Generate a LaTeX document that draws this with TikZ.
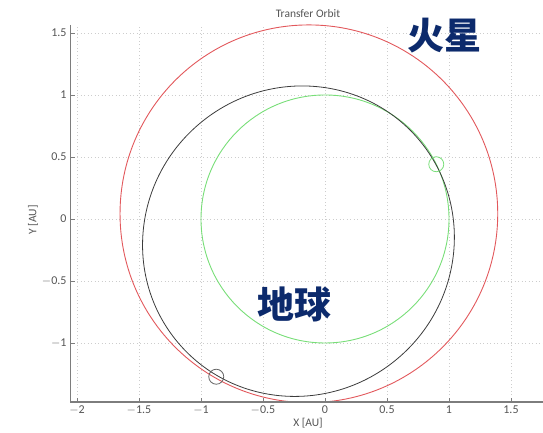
\documentclass[tikz,border=0pt]{standalone}
\usepackage{fontspec}
\setmainfont{Carlito}
\newfontfamily\cjk{Noto Sans CJK SC}
\definecolor{marsred}{RGB}{226,88,92}
\definecolor{earthgreen}{RGB}{120,222,120}
\definecolor{transgray}{RGB}{60,60,60}
\definecolor{cjkblue}{RGB}{12,42,108}
\definecolor{gridc}{RGB}{205,205,205}
\definecolor{axisc}{RGB}{125,125,125}
\definecolor{labelc}{RGB}{85,85,85}
\tikzset{
  gridline/.style={gridc, line width=0.8pt, dash pattern=on 1pt off 2.5pt},
  axisline/.style={axisc, line width=1.1pt},
  tickline/.style={axisc, line width=0.9pt},
  ticklabel/.style={labelc, font=\fontsize{12}{12}\selectfont, inner sep=1pt},
  axlabel/.style={labelc, font=\fontsize{11.5}{11.5}\selectfont, inner sep=0pt},
  orbitmars/.style={marsred, line width=0.9pt},
  orbitearth/.style={earthgreen, line width=0.9pt},
  orbittrans/.style={transgray, line width=0.8pt},
  bigcjk/.style={cjkblue, font=\cjk\bfseries\fontsize{37}{37}\selectfont, inner sep=0pt},
  marker/.style={circle, draw, line width=0.8pt, minimum size=15pt, inner sep=0pt}
}
\begin{document}
\begin{tikzpicture}[x=124pt,y=124pt]
\useasboundingbox (-2.621,-1.718) rectangle (1.758,1.766);
% grid
\foreach \x in {-2,-1.5,...,1.5} \draw[gridline] (\x,-1.476) -- (\x,1.565);
\foreach \y in {-1,-0.5,...,1.5} \draw[gridline] (-2.056,\y) -- (1.78,\y);
% orbits
\begin{scope}
\clip (-2.056,-1.476) rectangle (1.78,1.565);
\draw[orbitmars] (-0.13,0.042) circle (1.523);
\draw[orbitearth] (0,0) circle (1);
\draw[orbittrans, rotate around={40:(-0.214,-0.179)}] (-0.214,-0.179) ellipse (1.27 and 1.239);
\end{scope}
\node[marker, earthgreen] (dep) at (26.2:1) {};
\node[marker, transgray!80] (arr) at (-0.877,-1.272) {};
% axes
\draw[axisline] (-2.056,1.565) -- (-2.056,-1.476) -- (1.78,-1.476);
\foreach \x/\t in {-2/$-$2,-1.5/$-$1.5,-1/$-$1,-0.5/$-$0.5,0/0,0.5/0.5,1/1,1.5/1.5} {
  \draw[tickline] (\x,-1.476) -- ++(0,4.5pt);
  \node[ticklabel, anchor=north] at (\x,-1.5) {\t};
}
\foreach \y/\t in {-1/$-$1,-0.5/$-$0.5,0/0,0.5/0.5,1/1,1.5/1.5} {
  \draw[tickline] (-2.056,\y) -- ++(4.5pt,0);
  \node[ticklabel, anchor=east] at (-2.075,\y) {\t};
}
% labels
\node[axlabel] (title) at (-0.137,1.655) {Transfer Orbit};
\node[axlabel] (xlab) at (-0.137,-1.645) {X [AU]};
\node[axlabel, rotate=90] (ylab) at (-2.355,-0.008) {Y [AU]};
\node[bigcjk] (mars) at (0.965,1.478) {火星};
\node[bigcjk] (earth) at (-0.245,-0.69) {地球};
\end{tikzpicture}
\end{document}
